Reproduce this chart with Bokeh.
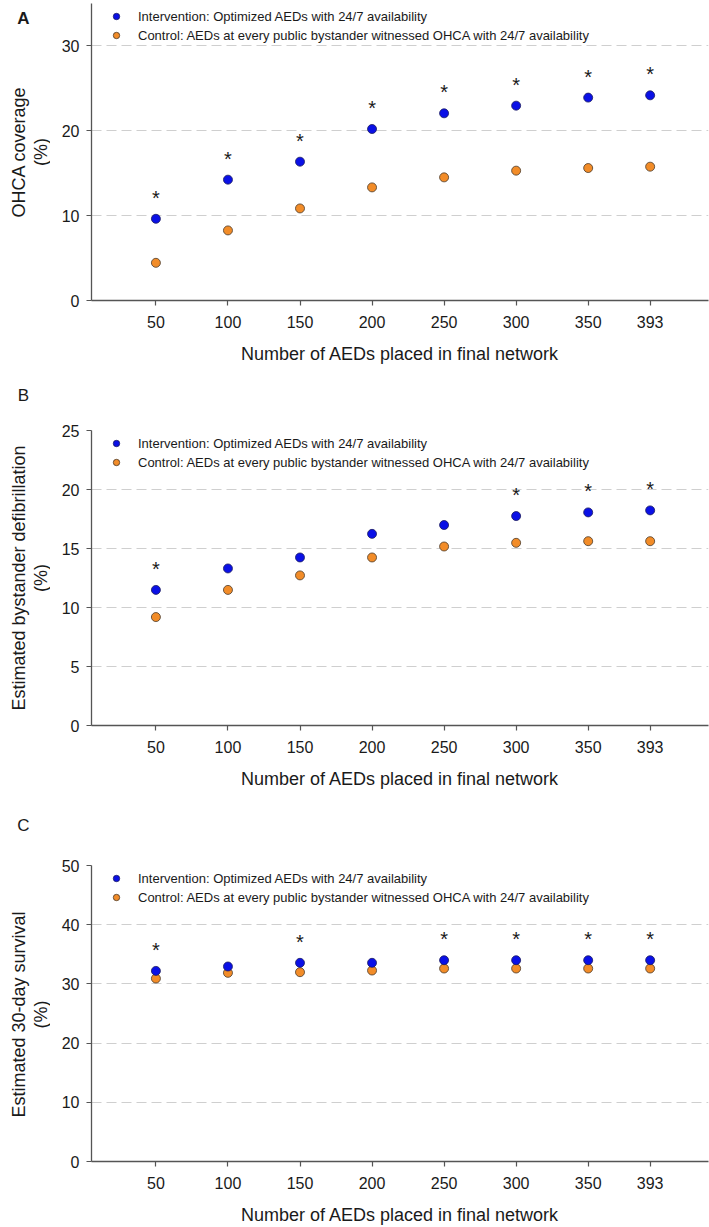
import math
from bokeh.plotting import figure
from bokeh.layouts import column, row
from bokeh.models import Range1d, FixedTicker, ColumnDataSource, Legend, LegendItem, Plot
from bokeh.core.properties import value
from bokeh.embed import file_html
from bokeh.resources import INLINE

# ---------------- data ----------------
aeds = [50, 100, 150, 200, 250, 300, 350, 393]

cov_int = [9.63, 14.24, 16.36, 20.21, 22.06, 22.96, 23.91, 24.18]
cov_ctl = [4.44, 8.26, 10.85, 13.33, 14.51, 15.30, 15.61, 15.77]
cov_sig = [1, 1, 1, 1, 1, 1, 1, 1]

def_int = [11.49, 13.31, 14.24, 16.24, 16.99, 17.75, 18.06, 18.23]
def_ctl = [9.19, 11.49, 12.72, 14.24, 15.17, 15.48, 15.62, 15.62]
def_sig = [1, 0, 0, 0, 0, 1, 1, 1]

surv_int = [32.20, 32.94, 33.56, 33.56, 34.00, 34.00, 34.00, 34.00]
surv_ctl = [30.91, 31.87, 31.98, 32.26, 32.60, 32.60, 32.60, 32.60]
surv_sig = [1, 0, 1, 0, 1, 1, 1, 1]

ticks_A = [0, 10, 20, 30]
ticks_B = [0, 5, 10, 15, 20, 25]
ticks_C = [0, 10, 20, 30, 40, 50]

label_int = "Intervention: Optimized AEDs with 24/7 availability"
label_ctl = "Control: AEDs at every public bystander witnessed OHCA with 24/7 availability"
x_title = "Number of AEDs placed in final network"

FONT = "Liberation Sans"
BLUE = "#0a10e6"
ORANGE = "#f28c28"
TXT = "#1a1a1a"
X0, X1 = 5.3, 433.5
GUTTER = 50          # left strip holding panel letter and y title
LEFT = 41            # main figure's own left border (frame starts at 91)
HAS_FRAME_ALIGN = "frame_align" in Plot.properties()


def make_gutter(letter, bold, letter_y, ylabel_lines, height, top, bottom):
    g = figure(width=GUTTER, height=height, output_backend="svg", toolbar_location=None,
               x_range=Range1d(0, GUTTER), y_range=Range1d(height, 0),
               min_border=0, min_border_left=0, min_border_right=0,
               min_border_top=0, min_border_bottom=0)
    if HAS_FRAME_ALIGN:
        g.frame_align = False
    g.axis.visible = False
    g.grid.visible = False
    g.outline_line_color = None
    g.background_fill_color = "white"
    g.border_fill_color = "white"
    g.text(x=[23], y=[letter_y], text=[letter], text_align="center",
           text_baseline="middle", text_font=value(FONT), text_font_size="17px",
           text_font_style="bold" if bold else "normal", text_color=TXT)
    yc = (top + (height - bottom)) / 2
    g.text(x=[18, 40], y=[yc, yc], text=ylabel_lines, angle=math.pi / 2,
           text_align="center", text_baseline="middle", text_font=value(FONT),
           text_font_size="18px", text_color=TXT)
    return g


def make_panel(y_int, y_ctl, sig, ymax, yticks, height, top, bottom):
    p = figure(width=709 - GUTTER, height=height, output_backend="svg",
               toolbar_location=None,
               x_range=Range1d(X0, X1), y_range=Range1d(0, ymax),
               min_border_left=LEFT, min_border_right=1,
               min_border_top=top, min_border_bottom=bottom)
    if HAS_FRAME_ALIGN:
        p.frame_align = False
    p.outline_line_color = None
    p.background_fill_color = "white"
    p.border_fill_color = "white"

    for ax in (p.xaxis[0], p.yaxis[0]):
        ax.axis_line_color = "#555555"
        ax.axis_line_width = 1.3
        ax.major_tick_line_color = "#555555"
        ax.major_tick_line_width = 1.2
        ax.major_tick_out = 5
        ax.major_tick_in = 0
        ax.minor_tick_line_color = None
        ax.major_label_text_font = FONT
        ax.major_label_text_font_size = "16px"
        ax.major_label_text_color = TXT
        ax.axis_label_text_font = FONT
        ax.axis_label_text_font_style = "normal"
        ax.axis_label_text_color = TXT

    p.xaxis.ticker = FixedTicker(ticks=aeds)
    p.xaxis.major_label_standoff = 10
    p.xaxis.axis_label = x_title
    p.xaxis.axis_label_text_font_size = "18px"
    p.xaxis.axis_label_standoff = 13

    p.yaxis.ticker = FixedTicker(ticks=yticks)
    p.yaxis.major_label_standoff = 7

    p.xgrid.grid_line_color = None
    p.ygrid.ticker = FixedTicker(ticks=yticks)
    p.ygrid.grid_line_color = "#cfcfcf"
    p.ygrid.grid_line_dash = "10 5"
    p.ygrid.grid_line_width = 1.2

    src = ColumnDataSource(dict(x=aeds, yi=y_int, yc=y_ctl))
    r_ctl = p.scatter("x", "yc", source=src, size=9, fill_color=ORANGE,
                      line_color="#4a3a2a", line_width=0.8)
    r_int = p.scatter("x", "yi", source=src, size=9, fill_color=BLUE,
                      line_color="#1a1a60", line_width=0.8)

    sx = [x for x, s in zip(aeds, sig) if s]
    sy = [y for y, s in zip(y_int, sig) if s]
    p.text(x=sx, y=sy, text=["*"] * len(sx), text_align="center",
           text_baseline="middle", y_offset=-21, text_font=value(FONT),
           text_font_size="20px", text_color=TXT)

    legend = Legend(items=[LegendItem(label=label_int, renderers=[r_int]),
                           LegendItem(label=label_ctl, renderers=[r_ctl])],
                    location="top_left", margin=5, padding=6, glyph_width=40,
                    glyph_height=16, label_height=16, spacing=3, label_standoff=2,
                    label_text_font=FONT, label_text_font_size="13px",
                    label_text_color=TXT,
                    border_line_color=None, background_fill_alpha=0)
    p.add_layout(legend, "center")
    return p


# (height, top border, bottom border, letter y) for each panel row
geomA = (375, 3, 75, 17.5)
geomB = (425, 55, 75, 20)
geomC = (427, 65, 64, 25)

gA = make_gutter("A", True, geomA[3], ["OHCA coverage", "(%)"], *geomA[:3])
pA = make_panel(cov_int, cov_ctl, cov_sig, 35, ticks_A, *geomA[:3])
gB = make_gutter("B", False, geomB[3], ["Estimated bystander defibrillation", "(%)"], *geomB[:3])
pB = make_panel(def_int, def_ctl, def_sig, 25, ticks_B, *geomB[:3])
gC = make_gutter("C", False, geomC[3], ["Estimated 30-day survival", "(%)"], *geomC[:3])
pC = make_panel(surv_int, surv_ctl, surv_sig, 50, ticks_C, *geomC[:3])

layout = column(row(gA, pA, spacing=0), row(gB, pB, spacing=0), row(gC, pC, spacing=0),
                spacing=0)
open("out.html", "w").write(file_html(layout, INLINE))
